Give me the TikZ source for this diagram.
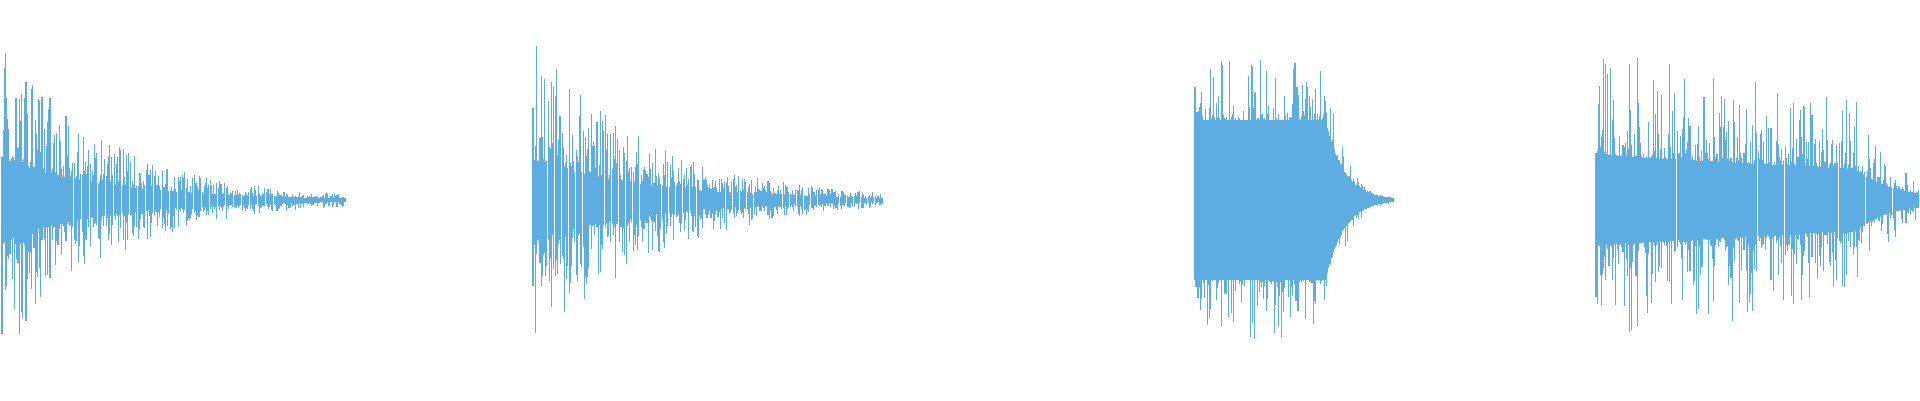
\documentclass[tikz,border=0pt]{standalone}
\usepackage{tikz}
\definecolor{wavecol}{HTML}{5DADE2}
\begin{document}
\begin{tikzpicture}[wave/.style={draw=wavecol,line width=0.3pt}]
  \useasboundingbox (0,-2) rectangle (19.2,2);
  \pgfmathsetseed{7}
  % first stroke: fast decay
  \foreach \i in {0,...,300}{
    \pgfmathsetmacro\t{\i/300}
    \pgfmathsetmacro\e{exp(-3.2*\t)}
    \pgfmathsetmacro\a{\e*(0.25+0.75*rnd^1.8)*1.6}
    \pgfmathsetmacro\b{\e*(0.25+0.75*rnd^1.8)*1.6}
    \draw[wave] (0.02+\t*3.43,-\a) -- (0.02+\t*3.43,\b);
  }
  % second stroke
  \foreach \i in {0,...,300}{
    \pgfmathsetmacro\t{\i/300}
    \pgfmathsetmacro\e{exp(-3.0*\t)}
    \pgfmathsetmacro\a{\e*(0.25+0.75*rnd^1.8)*1.6}
    \pgfmathsetmacro\b{\e*(0.25+0.75*rnd^1.8)*1.6}
    \draw[wave] (5.33+\t*3.49,-\a) -- (5.33+\t*3.49,\b);
  }
  % third stroke: flat body, quick tail
  \foreach \i in {0,...,200}{
    \pgfmathsetmacro\t{\i/200}
    \pgfmathsetmacro\e{ifthenelse(\t<0.66,1,exp(-11*(\t-0.66)))}
    \pgfmathsetmacro\a{\e*(0.8+0.6*rnd^5)}
    \pgfmathsetmacro\b{\e*(0.8+0.6*rnd^5)}
    \draw[wave] (11.95+\t*1.98,-\a) -- (11.95+\t*1.98,\b);
  }
  % fourth stroke: slow decay
  \foreach \i in {0,...,300}{
    \pgfmathsetmacro\t{\i/300}
    \pgfmathsetmacro\e{ifthenelse(\t<0.8,1-0.4*\t,0.68*exp(-8*(\t-0.8)))}
    \pgfmathsetmacro\a{\e*(0.45+1.05*rnd^3.5)}
    \pgfmathsetmacro\b{\e*(0.45+1.05*rnd^3.5)}
    \draw[wave] (15.96+\t*3.24,-\a) -- (15.96+\t*3.24,\b);
  }
\end{tikzpicture}
\end{document}
